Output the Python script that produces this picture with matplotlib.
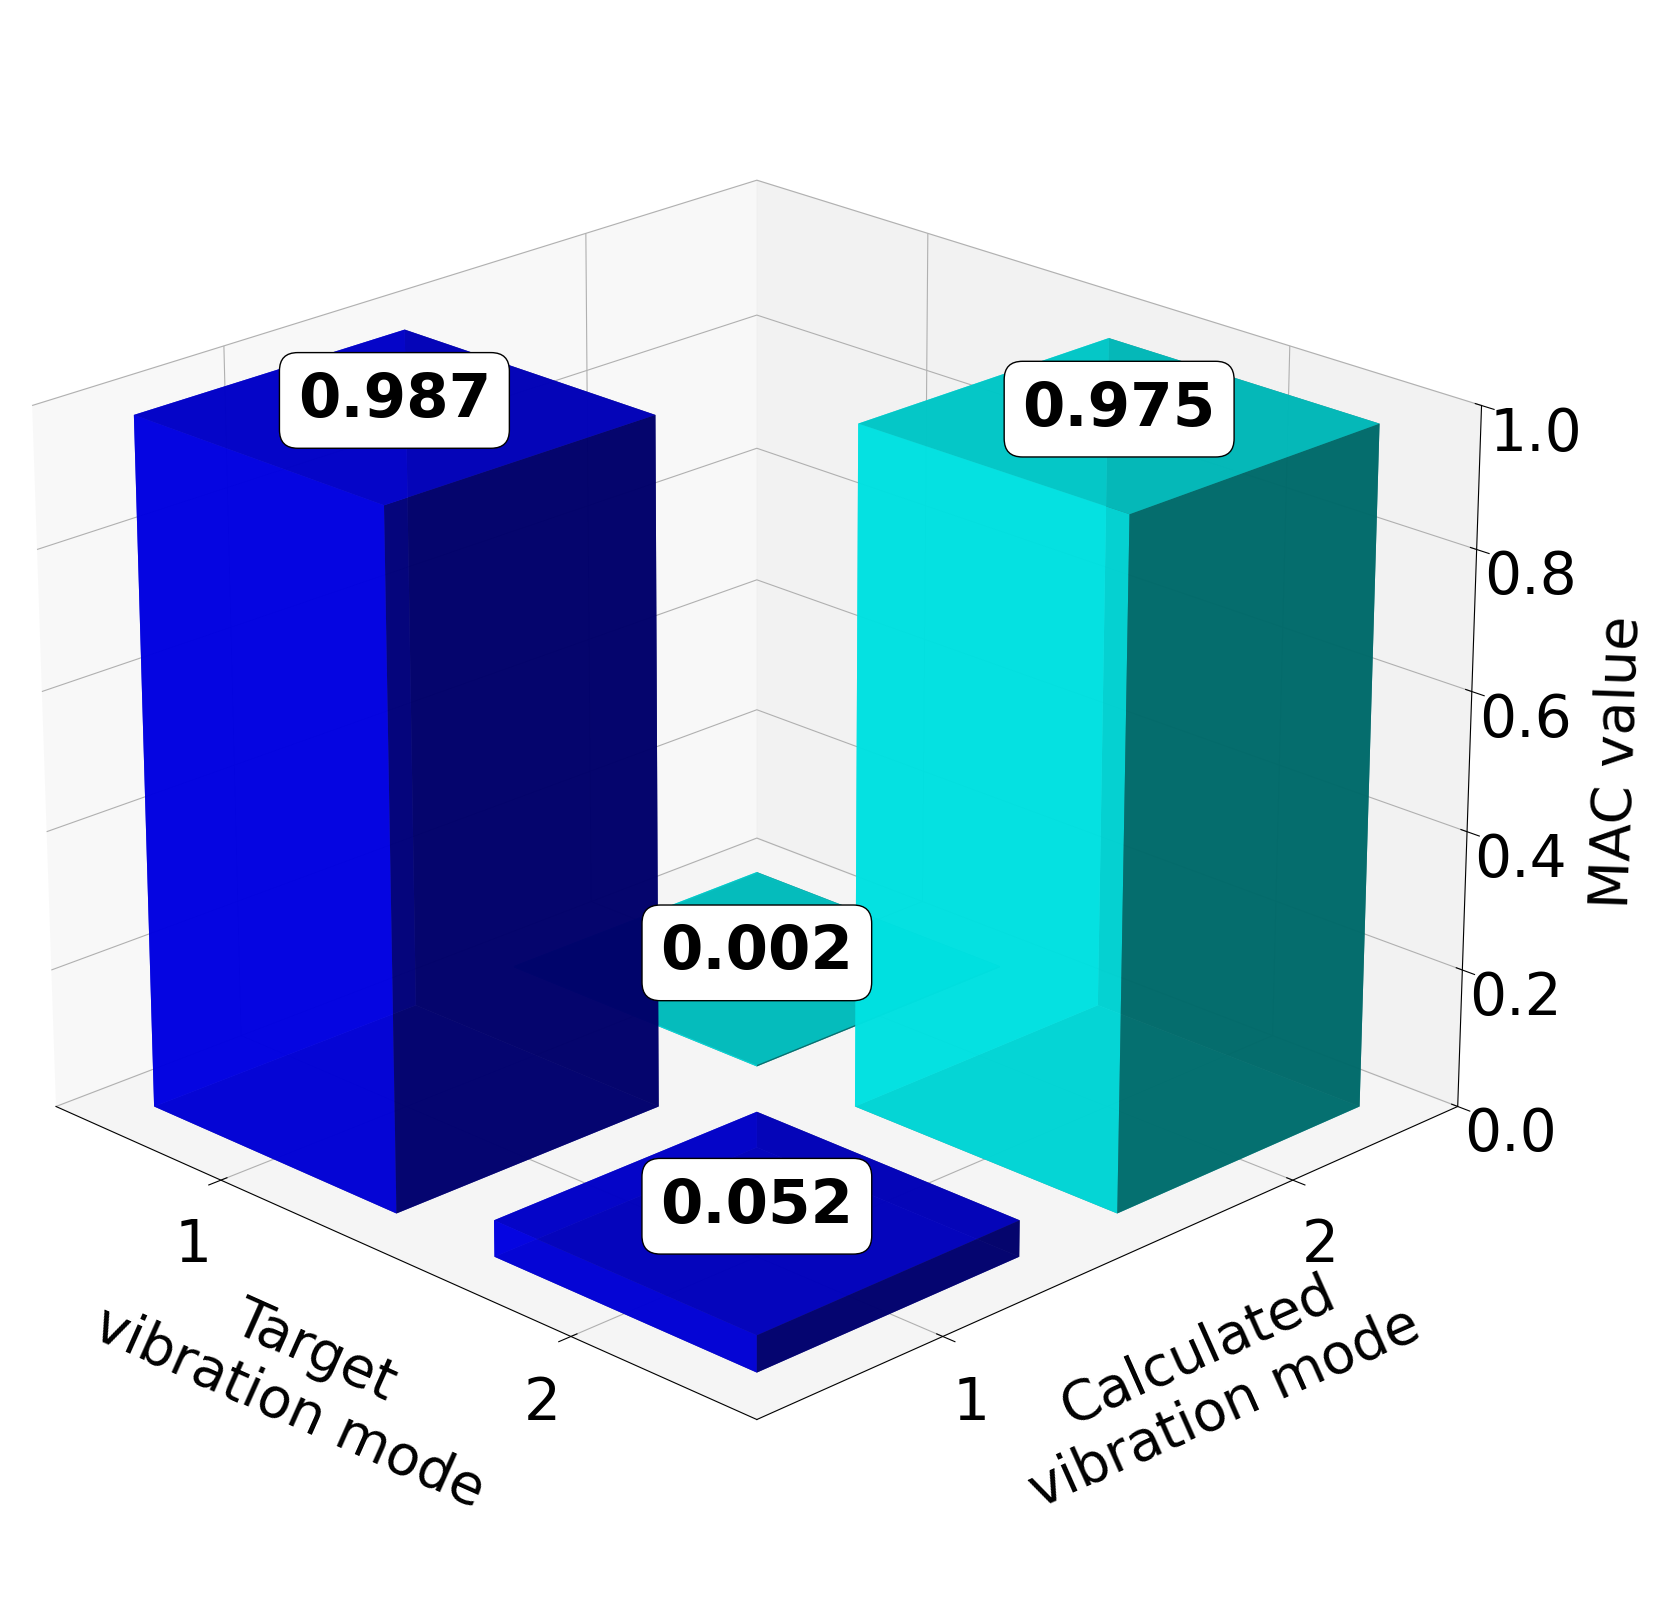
import matplotlib
matplotlib.use("Agg")
import matplotlib.pyplot as plt
import numpy as np

target_modes = [1, 2]
calc_modes = [1, 2]
mac = [[0.987, 0.052],   # calc mode 1: target 1, target 2
       [0.002, 0.975]]   # calc mode 2
labels = [["0.987", "0.052"], ["0.002", "0.975"]]
colors = ["blue", "cyan"]

fig = plt.figure(figsize=(16.72, 15.98), dpi=100)
ax = fig.add_axes([-0.04, 0.02, 0.96, 0.98], projection="3d")
ax.view_init(elev=22, azim=-45)

w = 0.72
for j, c in enumerate(calc_modes):
    for i, t in enumerate(target_modes):
        ax.bar3d(t - w / 2, c - w / 2, 0, w, w, mac[j][i],
                 color=colors[j], alpha=0.85, shade=True)
for j, c in enumerate(calc_modes):
    for i, t in enumerate(target_modes):
        ax.text(t, c, mac[j][i] + 0.02, labels[j][i], fontsize=44,
                fontweight="bold", ha="center", va="center", zorder=10,
                bbox=dict(boxstyle="round,pad=0.3", fc="white", ec="black"))

ax.set_xlim(0.5, 2.5)
ax.set_ylim(0.5, 2.5)
ax.set_zlim(0, 1.0)
ax.set_xticks(target_modes)
ax.set_yticks(calc_modes)
ax.set_zticks([0, 0.2, 0.4, 0.6, 0.8, 1.0])
ax.tick_params(labelsize=42, pad=14)
ax.set_xlabel("Target\nvibration mode", fontsize=40, labelpad=50)
ax.set_ylabel("Calculated\nvibration mode", fontsize=40, labelpad=50)
ax.set_zlabel("MAC value", fontsize=40, labelpad=40)
try:
    ax.zaxis.set_ticks_position('upper')
    ax.zaxis.set_label_position('upper')
except Exception:
    pass
fig.savefig("out.png", dpi=100)
